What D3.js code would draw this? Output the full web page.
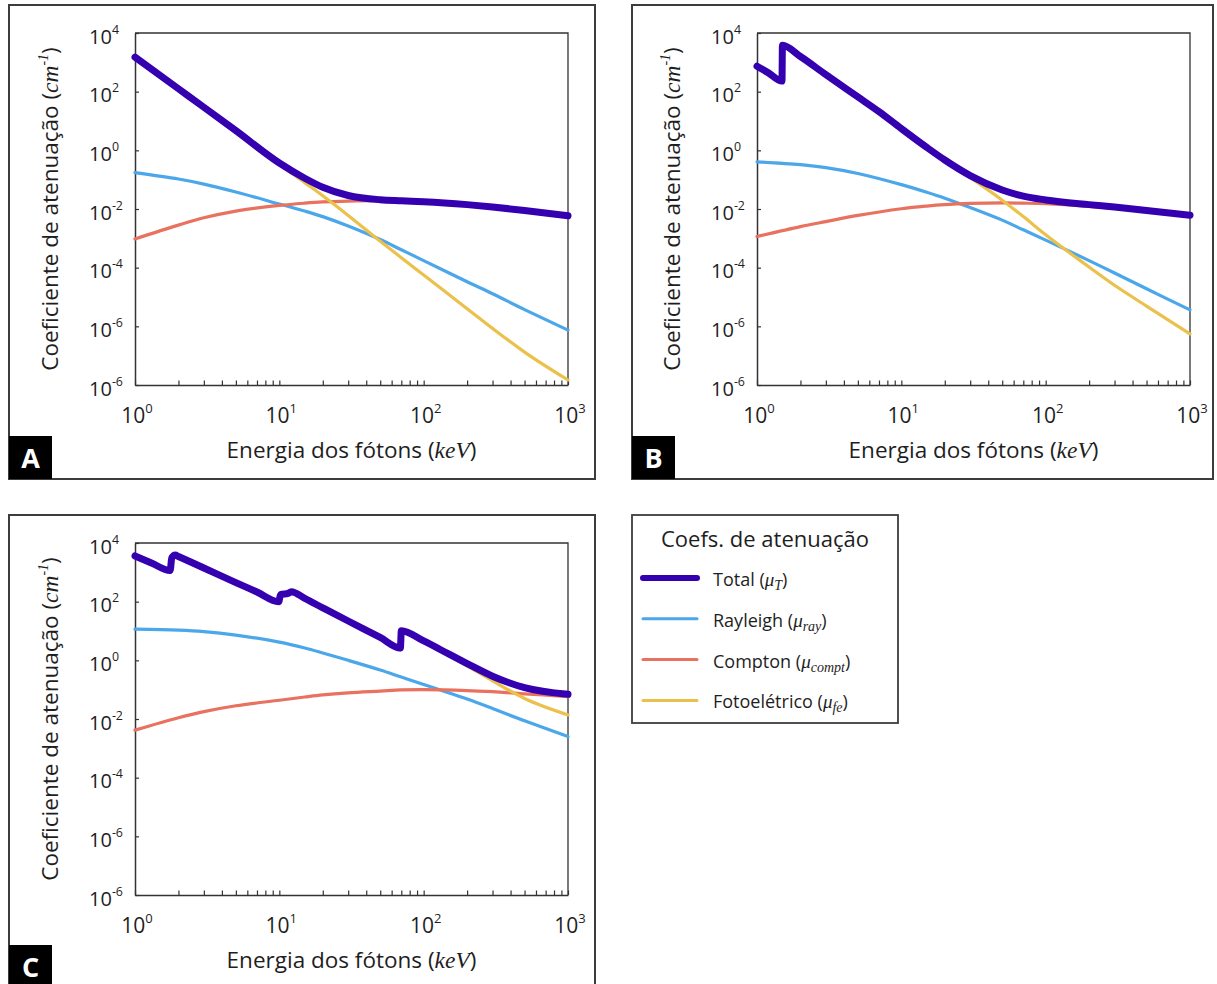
<!DOCTYPE html>
<html>
<head>
<meta charset="utf-8">
<script src="https://cdn.jsdelivr.net/npm/d3@7"></script>
<style>
  html, body { margin: 0; padding: 0; background: #fff; }
  svg { display: block; }
</style>
</head>
<body>
<svg id="chart" width="1217" height="984"></svg>
<script>
// ---------- data: attenuation coefficients (cm^-1) vs photon energy (keV) ----------
// energies shared by the smooth components (Rayleigh, Compton)
const energyGrid = [1, 2, 3, 5, 10, 15, 20, 30, 50, 70, 100, 200, 300, 500, 1000];

// A
const rayleighA = [0.174, 0.105, 0.0708, 0.0380, 0.0148, 0.00851, 0.00550, 0.00263, 9.12e-4, 4.07e-4, 1.74e-4, 3.31e-5, 1.29e-5, 3.72e-6, 7.41e-7];
const comptonA  = [9.55e-4, 2.82e-3, 5.01e-3, 8.51e-3, 0.0132, 0.0158, 0.0174, 0.0186, 0.0191, 0.0182, 0.0170, 0.0135, 0.0112, 0.00851, 0.00562];
const photoA    = [1.51e3, 126, 29.5, 4.68, 0.339, 0.0794, 0.0282, 0.00603, 7.94e-4, 2.19e-4, 5.62e-5, 3.98e-6, 8.51e-7, 1.32e-7, 1.48e-8];
const totalA    = [1.51e3, 126, 29.5, 4.68, 0.370, 0.112, 0.0550, 0.0288, 0.0207, 0.0191, 0.0178, 0.0141, 0.0117, 0.00891, 0.00589];

// B (K edge near 1.5 keV)
const edgeEnergiesB = [1, 1.2, 1.49, 1.5, 2, 3, 5, 7, 10, 15, 20, 30, 50, 70, 100, 200, 300, 500, 1000];
const rayleighB = [0.407, 0.324, 0.257, 0.162, 0.0676, 0.0372, 0.0234, 0.0112, 0.00417, 0.00195, 8.71e-4, 1.74e-4, 6.61e-5, 1.91e-5, 3.63e-6];
const comptonB  = [1.15e-3, 2.51e-3, 3.72e-3, 6.03e-3, 0.0102, 0.0126, 0.0141, 0.0155, 0.0162, 0.0158, 0.0151, 0.0123, 0.0105, 0.00832, 0.00575];
const photoB    = [741, 437, 229, 3.80e3, 1.58e3, 380, 66.1, 20.9, 5.37, 1.20, 0.437, 0.117, 0.0200, 5.50e-3, 1.32e-3, 1.05e-4, 2.51e-5, 4.90e-6, 5.50e-7];
const totalB    = [741, 437, 229, 3.80e3, 1.58e3, 380, 66.1, 20.9, 5.50, 1.26, 0.468, 0.138, 0.0447, 0.0275, 0.0204, 0.0141, 0.0117, 0.00891, 0.00617];

// C (M, L and K edges)
const edgeEnergiesC = [1, 1.3, 1.75, 1.8, 1.9, 2, 3, 5, 7, 9.9, 10.2, 11.5, 12.1, 15, 20, 30, 50, 69, 70, 100, 150, 200, 300, 500, 1000];
const rayleighC = [11.5, 10.7, 9.55, 7.24, 4.17, 2.63, 1.78, 1.00, 0.468, 0.269, 0.151, 0.0479, 0.0229, 0.00871, 0.00251];
const comptonC  = [4.17e-3, 0.0110, 0.0178, 0.0282, 0.0437, 0.0562, 0.0661, 0.0776, 0.0891, 0.0977, 0.100, 0.0933, 0.0851, 0.0724, 0.0575];
const photoC    = [3.62e3, 2.08e3, 1.14e3, 3.15e3, 3.88e3, 3.46e3, 1.40e3, 440, 209, 95.7, 170, 187, 215, 126, 60.0, 20.8, 5.47, 2.28, 9.85, 4.31, 1.45, 0.646, 0.200, 0.0501, 0.0138];
const totalC    = [3.63e3, 2.09e3, 1.15e3, 3.16e3, 3.89e3, 3.47e3, 1.41e3, 447, 214, 100, 174, 191, 219, 129, 61.7, 21.9, 6.03, 2.63, 10.2, 4.57, 1.62, 0.776, 0.288, 0.117, 0.0692];

// axis ticks and their printed exponents
const yTickValues = [1e4, 1e2, 1, 1e-2, 1e-4, 1e-6, 1e-8];
const yTickExponents = ["4", "2", "0", "-2", "-4", "-6", "-6"];
const xTickValues = [1, 10, 100, 1000];
const xTickExponents = ["0", "1", "2", "3"];

// legend entries
const legendTitle = "Coefs. de atenuação";
const legendNames = ["Total", "Rayleigh", "Compton", "Fotoelétrico"];
const legendSubs  = ["T", "ray", "compt", "fe"];
const seriesKeys  = ["total", "rayleigh", "compton", "photo"];

// ---------- styles ----------
const sansFont = "'Open Sans', 'Noto Sans', sans-serif";
const mathFont = "'Liberation Serif', 'DejaVu Serif', serif";
const axisColor = "#333";
const textColor = "#1e1e1e";
const styles = {
  rayleigh: { color: "#4ba7ea", width: 3.2 },
  compton:  { color: "#e8725f", width: 3.2 },
  photo:    { color: "#ebc14c", width: 3.2 },
  total:    { color: "#3400b0", width: 7 }
};

const panels = [
  { letter: "A", box: { x: 9, y: 5, w: 586, h: 474 }, plot: { x: 135, y: 33, w: 433, h: 352 },
    smoothE: energyGrid, edgeE: energyGrid,
    rayleigh: rayleighA, compton: comptonA, photo: photoA, total: totalA },
  { letter: "B", box: { x: 632, y: 5, w: 581, h: 474 }, plot: { x: 757, y: 33, w: 433, h: 352 },
    smoothE: energyGrid, edgeE: edgeEnergiesB,
    rayleigh: rayleighB, compton: comptonB, photo: photoB, total: totalB },
  { letter: "C", box: { x: 9, y: 515, w: 586, h: 473 }, plot: { x: 135, y: 543, w: 433, h: 352 },
    smoothE: energyGrid, edgeE: edgeEnergiesC,
    rayleigh: rayleighC, compton: comptonC, photo: photoC, total: totalC }
];

const svg = d3.select("#chart");
svg.append("rect").attr("width", 1217).attr("height", 984).attr("fill", "#fff");

function addPower(text, exp, size) {
  text.append("tspan").text("10");
  text.append("tspan").attr("dy", -0.5 * size).attr("font-size", 0.62 * size).text(exp);
}

function drawPanel(p) {
  const g = svg.append("g");
  const { x: px, y: py, w, h } = p.plot;

  const x = d3.scaleLog().domain([1, 1000]).range([px, px + w]);
  const y = d3.scaleLog().domain([1e-8, 1e4]).range([py + h, py]);

  // outer frame
  g.append("rect")
    .attr("x", p.box.x).attr("y", p.box.y)
    .attr("width", p.box.w).attr("height", p.box.h)
    .attr("fill", "none").attr("stroke", "#3c3c3c").attr("stroke-width", 2);

  // panel letter tag
  g.append("rect")
    .attr("x", p.box.x).attr("y", p.box.y + p.box.h - 43)
    .attr("width", 43).attr("height", 43).attr("fill", "#000");
  g.append("text")
    .attr("x", p.box.x + 21.5).attr("y", p.box.y + p.box.h - 11.5)
    .attr("text-anchor", "middle")
    .attr("font-family", sansFont).attr("font-weight", 700).attr("font-size", 27)
    .attr("fill", "#fff").text(p.letter);

  // top and right edges of the plotting area
  g.append("path")
    .attr("d", `M${px},${py}H${px + w}V${py + h}`)
    .attr("fill", "none").attr("stroke", axisColor).attr("stroke-width", 1.3);

  // y axis with inward ticks
  const yAxis = g.append("g").attr("transform", `translate(${px},0)`)
    .call(d3.axisLeft(y).tickValues(yTickValues).tickSize(-4).tickSizeOuter(0).tickFormat(""));
  // x axis with inward minor ticks
  const xAxis = g.append("g").attr("transform", `translate(0,${py + h})`)
    .call(d3.axisBottom(x).tickValues(x.ticks()).tickSize(-4.5).tickSizeOuter(0).tickFormat(""));
  [yAxis, xAxis].forEach(a => {
    a.select(".domain").attr("stroke", axisColor).attr("stroke-width", 1.5);
    a.selectAll(".tick line").attr("stroke", axisColor).attr("stroke-width", 1.2);
  });

  // y tick labels
  yTickValues.forEach((v, i) => {
    const t = g.append("text")
      .attr("x", px - 46).attr("y", y(v) + 10.5)
      .attr("font-family", sansFont).attr("font-size", 20).attr("fill", textColor);
    addPower(t, yTickExponents[i], 20);
  });

  // x tick labels
  xTickValues.forEach((v, i) => {
    const t = g.append("text")
      .attr("x", x(v) + 2).attr("y", py + h + 38)
      .attr("text-anchor", "middle")
      .attr("font-family", sansFont).attr("font-size", 21).attr("fill", textColor);
    addPower(t, xTickExponents[i], 21);
  });

  // x axis title
  const xt = g.append("text")
    .attr("x", px + w / 2).attr("y", py + h + 73)
    .attr("text-anchor", "middle")
    .attr("font-family", sansFont).attr("font-size", 22.5).attr("fill", textColor);
  xt.append("tspan").text("Energia dos fótons (");
  xt.append("tspan").attr("font-family", mathFont).attr("font-style", "italic").attr("font-size", 23.5).text("keV");
  xt.append("tspan").text(")");

  // y axis title
  const yt = g.append("text")
    .attr("transform", `translate(${px - 77},${py + h / 2}) rotate(-90)`)
    .attr("text-anchor", "middle")
    .attr("font-family", sansFont).attr("font-size", 22.5).attr("fill", textColor);
  yt.append("tspan").text("Coeficiente de atenuação (");
  yt.append("tspan").attr("font-family", mathFont).attr("font-style", "italic").attr("font-size", 23.5).text("cm");
  yt.append("tspan").attr("font-family", mathFont).attr("font-style", "italic").attr("font-size", 14).attr("dy", -10).text("-1");
  yt.append("tspan").attr("dy", 10).text(")");

  // curves: smooth components through a centripetal spline, edge-bearing ones monotone
  const smoothLine = d3.line()
    .x(d => x(d[0])).y(d => y(d[1]))
    .curve(d3.curveCatmullRom.alpha(0.5));
  const edgeLine = d3.line()
    .x(d => x(d[0])).y(d => y(d[1]))
    .curve(d3.curveMonotoneX);

  const curves = [
    { key: "rayleigh", gen: smoothLine, data: d3.zip(p.smoothE, p.rayleigh) },
    { key: "compton",  gen: smoothLine, data: d3.zip(p.smoothE, p.compton) },
    { key: "photo",    gen: edgeLine,   data: d3.zip(p.edgeE, p.photo) },
    { key: "total",    gen: edgeLine,   data: d3.zip(p.edgeE, p.total) }
  ];
  curves.forEach(c => {
    g.append("path")
      .attr("d", c.gen(c.data))
      .attr("fill", "none")
      .attr("stroke", styles[c.key].color)
      .attr("stroke-width", styles[c.key].width)
      .attr("stroke-linecap", "round")
      .attr("stroke-linejoin", "round");
  });
}

panels.forEach(drawPanel);

// ---------- legend ----------
const lg = svg.append("g");
lg.append("rect")
  .attr("x", 632).attr("y", 515).attr("width", 266).attr("height", 208)
  .attr("fill", "#fff").attr("stroke", "#3c3c3c").attr("stroke-width", 1.8);
lg.append("text")
  .attr("x", 765).attr("y", 547).attr("text-anchor", "middle")
  .attr("font-family", sansFont).attr("font-size", 22).attr("fill", textColor)
  .text(legendTitle);

seriesKeys.forEach((k, i) => {
  const cy = 578 + i * 40.8;
  lg.append("line")
    .attr("x1", 643).attr("x2", 697).attr("y1", cy).attr("y2", cy)
    .attr("stroke", styles[k].color)
    .attr("stroke-width", k === "total" ? 6 : 3)
    .attr("stroke-linecap", "round");
  const t = lg.append("text")
    .attr("x", 713).attr("y", cy + 8)
    .attr("font-family", sansFont).attr("font-size", 18).attr("fill", textColor);
  t.append("tspan").text(legendNames[i] + " (");
  t.append("tspan").attr("font-family", mathFont).attr("font-style", "italic").attr("font-size", 19).text("μ");
  t.append("tspan").attr("font-family", mathFont).attr("font-style", "italic").attr("font-size", 14).attr("dy", 4).text(legendSubs[i]);
  t.append("tspan").attr("dy", -4).text(")");
});
</script>
</body>
</html>
